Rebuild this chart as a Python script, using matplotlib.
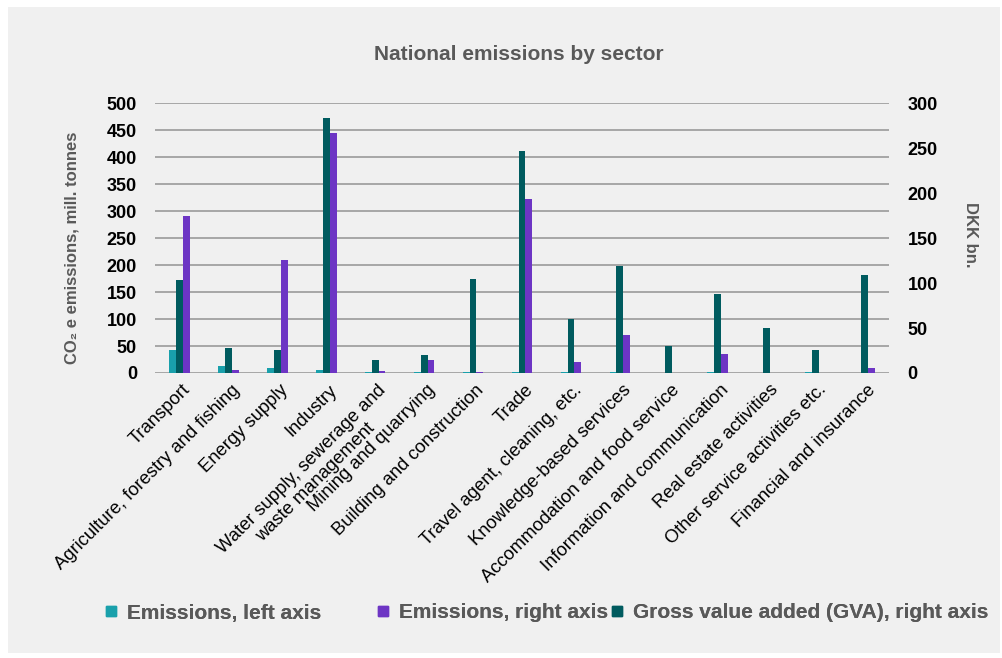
import numpy as np
import matplotlib
matplotlib.use("Agg")
import matplotlib.pyplot as plt
from matplotlib.patches import Rectangle
from matplotlib.lines import Line2D
from matplotlib.transforms import ScaledTranslation

sectors = [
    "Transport",
    "Agriculture, forestry and fishing",
    "Energy supply",
    "Industry",
    "Water supply, sewerage and\nwaste management",
    "Mining and quarrying",
    "Building and construction",
    "Trade",
    "Travel agent, cleaning, etc.",
    "Knowledge-based services",
    "Accommodation and food service",
    "Information and communication",
    "Real estate activities",
    "Other service activities etc.",
    "Financial and insurance",
]
# CO2e emissions, mill. tonnes (left axis)
emissions_left = [43, 13, 8.5, 5.5, 1.5, 1.5, 1, 1, 1, 1.5, 0.5, 1, 0.5, 1, 0.5]
# Emissions shown against the right axis
emissions_right = [175, 3, 126, 267, 2, 14, 1.5, 194, 12, 42, 0.5, 21, 0.5, 0.5, 6]
# Gross value added, DKK bn. (right axis)
gva = [104, 28, 26, 284, 14, 20, 105, 247, 60, 119, 30, 88, 50, 26, 109]

left_ticks = list(range(0, 501, 50))
right_ticks = list(range(0, 301, 50))

C_CYAN = "#19a0ab"
C_PURPLE = "#6d35c4"
C_TEAL = "#005b5f"
C_GRID = "#a6a6a6"
C_TEXT = "#595959"
BG = "#f0f0f0"

BOLD = ["Liberation Sans", "DejaVu Sans"]

W, H = 1002, 658
fig = plt.figure(figsize=(W / 100, H / 100), dpi=100, facecolor="white")
panel = Rectangle((8 / W, 1 - 653 / H), (1000 - 8) / W, (653 - 7) / H,
                  transform=fig.transFigure, facecolor=BG,
                  edgecolor="none", zorder=-10)
fig.add_artist(panel)

ax = fig.add_axes([155 / W, 1 - 373 / H, (889 - 155) / W, (373 - 103.3) / H])
ax.set_facecolor("none")
ax2 = ax.twinx()
ax2.set_facecolor("none")

x = np.arange(len(sectors))
w = 0.14
ax.bar(x - w, emissions_left, width=w, color=C_CYAN, zorder=3)
ax2.bar(x, gva, width=w, color=C_TEAL, zorder=3)
ax2.bar(x + w, emissions_right, width=w, color=C_PURPLE, zorder=3)

ax.set_xlim(-0.5, len(sectors) - 0.5)
ax.set_ylim(0, 500)
ax2.set_ylim(0, 300)
ax.set_yticks(left_ticks)
ax2.set_yticks(right_ticks)
ax.yaxis.grid(True, color=C_GRID, linewidth=1.4, zorder=0)
ax.set_axisbelow(True)

for a in (ax, ax2):
    for s in a.spines.values():
        s.set_visible(False)
    a.tick_params(axis="both", length=0)

ax.tick_params(axis="y", pad=13)
ax2.tick_params(axis="y", pad=13.5)
for lab in ax.get_yticklabels() + ax2.get_yticklabels():
    lab.set_fontfamily(BOLD)
    lab.set_fontweight("bold")
    lab.set_fontsize(13)
    lab.set_color("black")

ax.set_xticks(x)
ax.set_xticklabels(sectors, rotation=45, ha="right", rotation_mode="anchor",
                   fontsize=13.2, family=["Liberation Sans", "DejaVu Sans"],
                   color="black")
ax.tick_params(axis="x", pad=6)
shift = ScaledTranslation(0.025, 0, fig.dpi_scale_trans)
for lab in ax.get_xticklabels():
    lab.set_multialignment("center")
    lab.set_transform(lab.get_transform() + shift)

fig.text(72 / W, 1 - 248 / H, "CO\u2082 e emissions, mill. tonnes", rotation=90,
         ha="center", va="center", fontsize=12, fontweight="bold",
         family=BOLD, color=C_TEXT)
fig.text(970 / W, 1 - 235 / H, "DKK bn.", rotation=270,
         ha="center", va="center", fontsize=12, fontweight="bold",
         family=BOLD, color=C_TEXT)
fig.text(519 / W, 1 - 55 / H, "National emissions by sector",
         ha="center", va="center", fontsize=15, fontweight="bold",
         family=BOLD, color=C_TEXT)

entries = [
    (C_CYAN, "Emissions, left axis", 105),
    (C_PURPLE, "Emissions, right axis", 377),
    (C_TEAL, "Gross value added (GVA), right axis", 611),
]
for color, label, px in entries:
    h = Line2D([], [], marker="s", linestyle="none", markersize=7.5,
               markerfacecolor=color, markeredgecolor=color)
    leg = fig.legend(handles=[h], labels=[label], loc="center left",
                     bbox_to_anchor=(px / W, 1 - 613 / H), frameon=False,
                     handlelength=0.6, handletextpad=0.45, borderpad=0,
                     borderaxespad=0,
                     prop={"family": BOLD, "weight": "bold", "size": 15})
    for t in leg.get_texts():
        t.set_color(C_TEXT)
    fig.add_artist(leg)

fig.savefig("out.png", dpi=100, facecolor="white")
